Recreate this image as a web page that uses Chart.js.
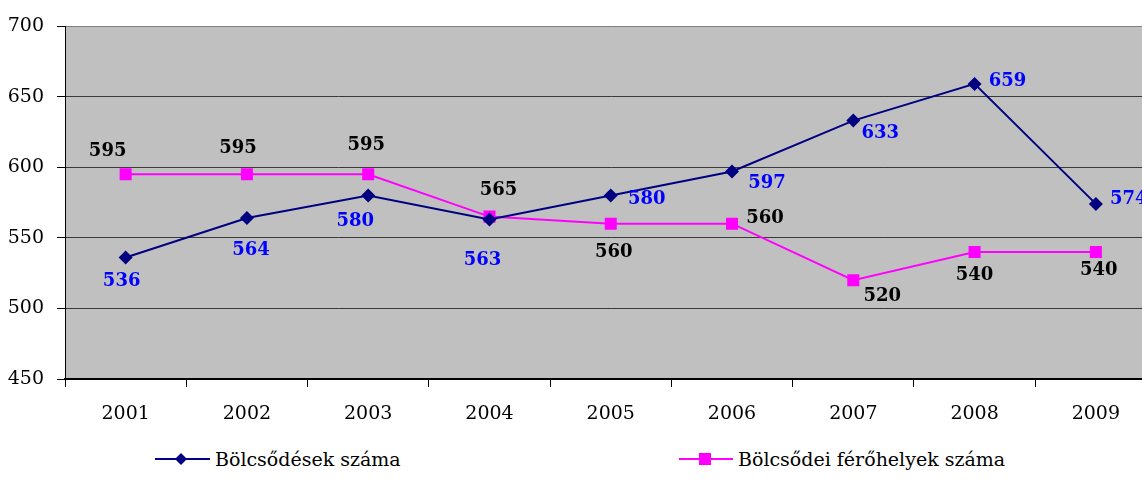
<!DOCTYPE html>
<html>
<head>
<meta charset="utf-8">
<script src="https://cdn.jsdelivr.net/npm/chart.js@4/dist/chart.umd.min.js"></script>
<style>
  body { margin: 0; background: #fff; overflow: hidden; }
  #wrap { position: absolute; left: 0; top: 0; width: 1165px; height: 430px; }
  .leg { position: absolute; top: 446px; font: 19px "DejaVu Serif", serif; color: #000; line-height: 26px; white-space: nowrap; }
  .leg svg { vertical-align: middle; margin-right: 5px; position: relative; top: -2px; }
</style>
</head>
<body>
<div id="wrap"><canvas id="bolcsodek"></canvas></div>
<div class="leg" style="left:155px">
  <svg width="55" height="16"><line x1="0" y1="8" x2="55" y2="8" stroke="#000080" stroke-width="2"/><path d="M26 2 L32 8 L26 14 L20 8 Z" fill="#000080"/></svg>Bölcsődések száma
</div>
<div class="leg" style="left:679px">
  <svg width="54" height="16"><line x1="0" y1="8" x2="54" y2="8" stroke="#FF00FF" stroke-width="2"/><rect x="20" y="2" width="12" height="12" fill="#FF00FF"/></svg>Bölcsődei férőhelyek száma
</div>
<script>
const evek = ['2001', '2002', '2003', '2004', '2005', '2006', '2007', '2008', '2009'];
const bolcsodekSzama = [536, 564, 580, 563, 580, 597, 633, 659, 574];
const ferohelyekSzama = [595, 595, 595, 565, 560, 560, 520, 540, 540];

// címkék eltolása a ponthoz képest (px)
const kekCimkeEltolas = [[-4, 24], [4, 32], [-13, 26], [-7, 41], [36, 4], [35, 12], [27, 13], [33, -3], [33, -5]];
const rozsaCimkeEltolas = [[-18, -23], [-9, -26], [-2, -29], [9, -26], [3, 29], [33, -5], [29, 16], [0, 23], [3, 18]];

const hatter = {
    id: 'hatter',
    beforeDraw(chart) {
        const a = chart.chartArea;
        const ctx = chart.ctx;
        ctx.save();
        ctx.fillStyle = '#C0C0C0';
        ctx.fillRect(a.left, a.top, a.right - a.left, a.bottom - a.top);
        ctx.restore();
    }
};

const cimkek = {
    id: 'cimkek',
    afterDatasetsDraw(chart) {
        const ctx = chart.ctx;
        ctx.save();
        ctx.font = 'bold 18px "DejaVu Serif", serif';
        ctx.textAlign = 'center';
        ctx.textBaseline = 'middle';
        chart.data.datasets.forEach((ds, i) => {
            const meta = chart.getDatasetMeta(i);
            const eltolas = i === 0 ? kekCimkeEltolas : rozsaCimkeEltolas;
            ctx.fillStyle = i === 0 ? '#0000FF' : '#000000';
            meta.data.forEach((pt, j) => {
                ctx.fillText(String(ds.data[j]), pt.x + eltolas[j][0], pt.y + eltolas[j][1]);
            });
        });
        ctx.restore();
    }
};

const config = {
    type: 'line',
    data: {
        labels: evek,
        datasets: [{
            label: 'Bölcsődések száma',
            data: bolcsodekSzama,
            borderColor: '#000080',
            backgroundColor: '#000080',
            borderWidth: 2,
            pointStyle: 'rectRot',
            pointRadius: 7,
            pointBorderWidth: 0,
            tension: 0
        }, {
            label: 'Bölcsődei férőhelyek száma',
            data: ferohelyekSzama,
            borderColor: '#FF00FF',
            backgroundColor: '#FF00FF',
            borderWidth: 2,
            pointStyle: 'rect',
            pointRadius: 8.5,
            pointBorderWidth: 0,
            tension: 0
        }]
    },
    options: {
        responsive: true,
        maintainAspectRatio: false,
        animation: false,
        layout: { padding: { top: 26, left: 0, right: 0, bottom: 0 } },
        plugins: {
            legend: { display: false },
            tooltip: { enabled: false }
        },
        scales: {
            x: {
                offset: true,
                afterFit(scale) { scale.height = 51; },
                grid: {
                    offset: true,
                    drawOnChartArea: false,
                    tickLength: 8,
                    tickColor: '#000'
                },
                border: { color: '#000', width: 2 },
                ticks: {
                    color: '#000',
                    padding: 16,
                    maxRotation: 0,
                    font: { family: '"DejaVu Serif", serif', size: 19 }
                }
            },
            y: {
                min: 450,
                max: 700,
                afterFit(scale) { scale.width = 65; },
                grid: {
                    color: c => c.tick && c.tick.value === 700 ? '#808080' : '#3a3a3a',
                    tickLength: 8,
                    tickColor: '#000'
                },
                border: { color: '#000', width: 1 },
                ticks: {
                    stepSize: 50,
                    color: '#000',
                    padding: 13,
                    font: { family: '"DejaVu Serif", serif', size: 19 }
                }
            }
        }
    },
    plugins: [hatter, cimkek]
};

new Chart(document.getElementById('bolcsodek').getContext('2d'), config);
</script>
</body>
</html>
